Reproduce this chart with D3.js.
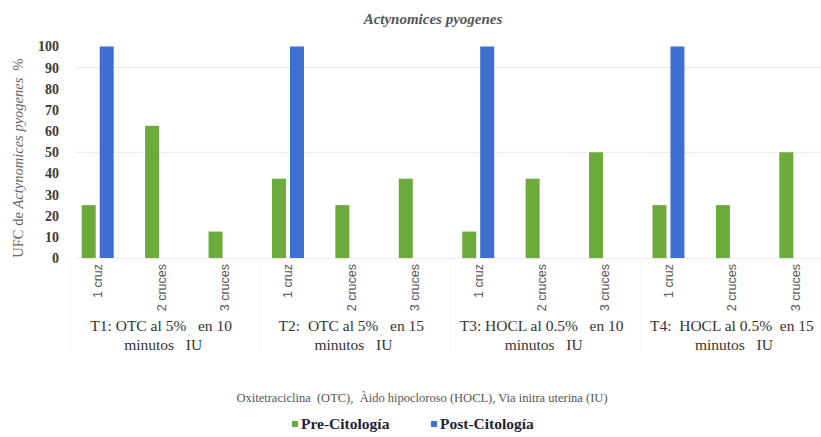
<!DOCTYPE html>
<html>
<head>
<meta charset="utf-8">
<script src="https://cdn.jsdelivr.net/npm/d3@7"></script>
<style>
  html, body { margin: 0; padding: 0; background: #fff; }
  svg { display: block; }
</style>
</head>
<body>
<svg id="chart" width="821" height="437"></svg>
<script>
// Treatment groups (two-line labels under each group of three categories)
const groupLine1 = ["T1: OTC al 5%   en 10", "T2:  OTC al 5%   en 15", "T3: HOCL al 0.5%   en 10", "T4:  HOCL al 0.5%  en 15"];
const groupLine2 = ["minutos   IU", "minutos   IU", "minutos   IU", "minutos   IU"];

// Cytology categories, repeated for each treatment
const categories = ["1 cruz", "2 cruces", "3 cruces",
                    "1 cruz", "2 cruces", "3 cruces",
                    "1 cruz", "2 cruces", "3 cruces",
                    "1 cruz", "2 cruces", "3 cruces"];

// Percentage of CFU per category
const preCitologia  = [25, 62.5, 12.5, 37.5, 25, 37.5, 12.5, 37.5, 50, 25, 25, 50];
const postCitologia = [100, 0, 0, 100, 0, 0, 100, 0, 0, 100, 0, 0];

const yTicks = [0, 10, 20, 30, 40, 50, 60, 70, 80, 90, 100];
const seriesNames = ["Pre-Citología", "Post-Citología"];
const seriesColors = ["#6aab3c", "#3e6ed0"];

const SERIF = "Liberation Serif";
const SANS = "Liberation Sans";

const svg = d3.select("#chart");

const plotLeft = 66, plotRight = 827, plotTop = 46.5, plotBottom = 258;

const x0 = d3.scaleBand()
  .domain(d3.range(categories.length))
  .range([plotLeft, plotRight])
  .paddingInner(0).paddingOuter(0);

const pairWidth = 32;
const x1 = d3.scaleBand()
  .domain([0, 1])
  .range([(x0.bandwidth() - pairWidth) / 2, (x0.bandwidth() + pairWidth) / 2])
  .paddingInner(0.222);

const y = d3.scaleLinear().domain([0, 100]).range([plotBottom, plotTop]);

// Light horizontal guide lines
svg.append("g").selectAll("line")
  .data([50, 90])
  .join("line")
  .attr("x1", plotLeft + 10).attr("x2", 821)
  .attr("y1", d => y(d)).attr("y2", d => y(d))
  .attr("stroke", "#e6e6e6").attr("stroke-width", 1);

// Faint separators between treatment groups
const groupBounds = d3.range(0, 12, 3).map(i => x0(i));
svg.append("g").selectAll("line")
  .data(groupBounds)
  .join("line")
  .attr("x1", d => d + 4).attr("x2", d => d + 4)
  .attr("y1", plotBottom + 2).attr("y2", 352)
  .attr("stroke", "#f4f4f4").attr("stroke-width", 1);

// Baseline
svg.append("line")
  .attr("x1", plotLeft + 10).attr("x2", 821)
  .attr("y1", y(0) + 0.5).attr("y2", y(0) + 0.5)
  .attr("stroke", "#efefef");

// Bars
const rows = categories.map((c, i) => ({ i, values: [preCitologia[i], postCitologia[i]] }));
const catG = svg.append("g").selectAll("g")
  .data(rows)
  .join("g")
  .attr("transform", d => `translate(${x0(d.i)},0)`);

catG.selectAll("rect")
  .data(d => d.values.map((v, s) => ({ v, s })).filter(e => e.v > 0))
  .join("rect")
  .attr("x", d => x1(d.s))
  .attr("width", x1.bandwidth())
  .attr("y", d => y(d.v))
  .attr("height", d => y(0) - y(d.v))
  .attr("fill", d => seriesColors[d.s]);

// Y axis
const yAxis = svg.append("g")
  .attr("transform", `translate(${plotLeft - 7},0)`)
  .call(d3.axisLeft(y).tickValues(yTicks).tickSize(0).tickPadding(0));
yAxis.attr("font-family", null);
yAxis.select(".domain").remove();
yAxis.selectAll("text")
  .style("font-family", SERIF)
  .style("font-size", "14px")
  .style("font-weight", "bold")
  .attr("fill", "#3a3a3a");

// Category axis (rotated labels)
const xAxis = svg.append("g")
  .attr("transform", `translate(0,${plotBottom + 6})`)
  .call(d3.axisBottom(x0).tickSize(0).tickFormat(i => categories[i]));
xAxis.attr("font-family", null);
xAxis.select(".domain").remove();
xAxis.selectAll("text")
  .style("font-family", SANS)
  .style("font-size", "12.5px")
  .attr("fill", "#555")
  .attr("transform", "rotate(-90)")
  .attr("text-anchor", "end")
  .attr("dy", "0.35em")
  .attr("x", 0).attr("y", 0);

// Group labels
const groupCenters = d3.range(4).map(g => (x0(g * 3) + x0(g * 3 + 2) + x0.bandwidth()) / 2);
svg.append("g").selectAll("text")
  .data(d3.range(4))
  .join("text")
  .attr("x", g => groupCenters[g])
  .attr("y", 331)
  .attr("text-anchor", "middle")
  .style("font-family", SERIF)
  .style("font-size", "15.5px")
  .style("white-space", "pre")
  .attr("fill", "#333")
  .text(g => groupLine1[g]);
svg.append("g").selectAll("text")
  .data(d3.range(4))
  .join("text")
  .attr("x", g => groupCenters[g] + 2)
  .attr("y", 350)
  .attr("text-anchor", "middle")
  .style("font-family", SERIF)
  .style("font-size", "15.5px")
  .style("white-space", "pre")
  .attr("fill", "#333")
  .text(g => groupLine2[g]);

// Title
svg.append("text")
  .attr("x", 433).attr("y", 24)
  .attr("text-anchor", "middle")
  .style("font-family", SERIF)
  .style("font-size", "15px")
  .style("font-weight", "bold")
  .style("font-style", "italic")
  .attr("fill", "#555")
  .text("Actynomices pyogenes");

// Y axis title
const yTitle = svg.append("text")
  .attr("transform", "translate(23,158) rotate(-90)")
  .attr("text-anchor", "middle")
  .style("font-family", SERIF)
  .style("font-size", "14.5px")
  .style("white-space", "pre")
  .attr("fill", "#666");
yTitle.append("tspan").text("UFC de ");
yTitle.append("tspan").style("font-style", "italic").text("Actynomices pyogenes");
yTitle.append("tspan").text("  %");

// Footnote
svg.append("text")
  .attr("x", 422).attr("y", 402)
  .attr("text-anchor", "middle")
  .style("font-family", SERIF)
  .style("font-size", "12.5px")
  .style("white-space", "pre")
  .attr("fill", "#555")
  .text("Oxitetraciclina  (OTC),  Àido hipocloroso (HOCL), Via initra uterina (IU)");

// Legend
const legendX = [292, 431];
const lg = svg.append("g").selectAll("g")
  .data(seriesNames)
  .join("g")
  .attr("transform", (d, i) => `translate(${legendX[i]},429)`);
lg.append("rect")
  .attr("x", 0).attr("y", -8)
  .attr("width", 6).attr("height", 6)
  .attr("fill", (d, i) => seriesColors[i]);
lg.append("text")
  .attr("x", 9).attr("y", 0)
  .style("font-family", SERIF)
  .style("font-size", "15.5px")
  .style("font-weight", "bold")
  .attr("fill", "#1f1f33")
  .text(d => d);
</script>
</body>
</html>
